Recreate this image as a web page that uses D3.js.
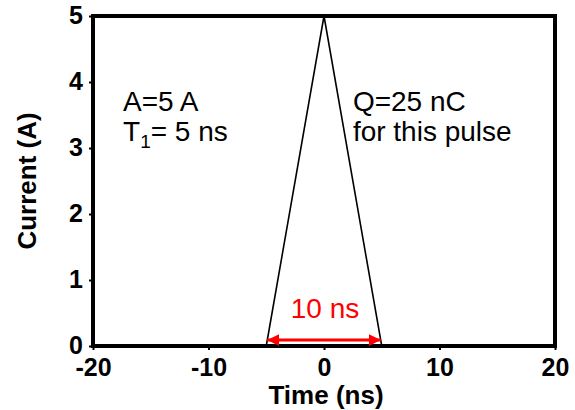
<!DOCTYPE html>
<html><head><meta charset="utf-8">
<script src="https://cdn.jsdelivr.net/npm/d3@7"></script>
<style>body{margin:0;background:#fff}svg{display:block}text{font-family:"Liberation Sans",Arial,sans-serif}</style>
</head><body><svg id="c" width="575" height="410"></svg>
<script>
const timeNs = [-5, 0, 5];
const currentA = [0, 5, 0];
const xTicks = [-20, -10, 0, 10, 20];
const yTicks = [0, 1, 2, 3, 4, 5];
const widthArrow = [-5, 5];
const widthArrowLevel = 0.09;
const widthLabel = "10 ns";
const leftNotes = ["A=5 A", "T1= 5 ns"];
const rightNotes = ["Q=25 nC", "for this pulse"];

const svg = d3.select("#c");
const m = {l: 93, r: 555, t: 16, b: 346};
const x = d3.scaleLinear().domain([-20, 20]).range([m.l, m.r]);
const y = d3.scaleLinear().domain([0, 5]).range([m.b, m.t]);

// frame
svg.append("rect").attr("x", m.l).attr("y", m.t).attr("width", m.r - m.l).attr("height", m.b - m.t)
  .attr("fill", "none").attr("stroke", "#000").attr("stroke-width", 4);

const fmt = d => String(d);
const xa = svg.append("g").attr("transform", `translate(0,${m.b})`)
  .call(d3.axisBottom(x).tickValues(xTicks).tickSize(4).tickPadding(9).tickFormat(fmt));
const ya = svg.append("g").attr("transform", `translate(${m.l},0)`)
  .call(d3.axisLeft(y).tickValues(yTicks).tickSize(4).tickPadding(6).tickFormat(fmt));
[xa, ya].forEach(a => {
  a.select(".domain").remove();
  a.selectAll(".tick line").attr("stroke", "#000").attr("stroke-width", 2);
  a.selectAll(".tick text").attr("fill", "#000").attr("font-size", 25).attr("font-weight", "bold")
    .attr("font-family", "Liberation Sans, Arial, sans-serif");
});
xa.selectAll(".tick text").attr("dy", "0.68em");
ya.selectAll(".tick text").attr("dy", "0.3em");

// axis titles
svg.append("text").attr("x", (m.l + m.r) / 2 + 2).attr("y", 404).attr("text-anchor", "middle")
  .attr("font-size", 26).attr("font-weight", "bold").text("Time (ns)");
svg.append("text").attr("transform", `translate(36,${(m.t + m.b) / 2}) rotate(-90)`).attr("text-anchor", "middle")
  .attr("font-size", 26).attr("font-weight", "bold").text("Current (A)");

// pulse
const line = d3.line().x((d, i) => x(timeNs[i])).y(d => y(d));
svg.append("path").datum(currentA).attr("d", line).attr("fill", "none").attr("stroke", "#000").attr("stroke-width", 1.6);

// red width arrow
const defs = svg.append("defs");
["s", "e"].forEach(k => {
  defs.append("marker").attr("id", "ah" + k).attr("viewBox", "0 0 10 10").attr("refX", 10).attr("refY", 5)
    .attr("markerWidth", 4).attr("markerHeight", 4).attr("markerUnits", "strokeWidth")
    .attr("orient", k === "s" ? "auto-start-reverse" : "auto")
    .append("path").attr("d", "M0,0L10,5L0,10Z").attr("fill", "#ff0000");
});
svg.append("line").attr("x1", x(widthArrow[0]) + 1).attr("x2", x(widthArrow[1]) - 1)
  .attr("y1", y(widthArrowLevel)).attr("y2", y(widthArrowLevel))
  .attr("stroke", "#ff0000").attr("stroke-width", 3)
  .attr("marker-start", "url(#ahs)").attr("marker-end", "url(#ahe)");
svg.append("text").attr("x", x(0) + 1).attr("y", 318).attr("text-anchor", "middle")
  .attr("font-size", 28).attr("fill", "#ff0000").text(widthLabel);

// notes
const noteX1 = x(-17.4), noteX2 = x(2.5);
svg.append("text").attr("x", noteX1).attr("y", 111).attr("font-size", 28).text(leftNotes[0]);
const t1 = svg.append("text").attr("x", noteX1).attr("y", 141).attr("font-size", 28);
t1.append("tspan").text(leftNotes[1].slice(0, 1));
t1.append("tspan").attr("font-size", 19).attr("dy", 7).text(leftNotes[1].slice(1, 2));
t1.append("tspan").attr("dy", -7).text(leftNotes[1].slice(2));
svg.append("text").attr("x", noteX2).attr("y", 111).attr("font-size", 28).text(rightNotes[0]);
svg.append("text").attr("x", noteX2).attr("y", 141).attr("font-size", 28).text(rightNotes[1]);
</script></body></html>
